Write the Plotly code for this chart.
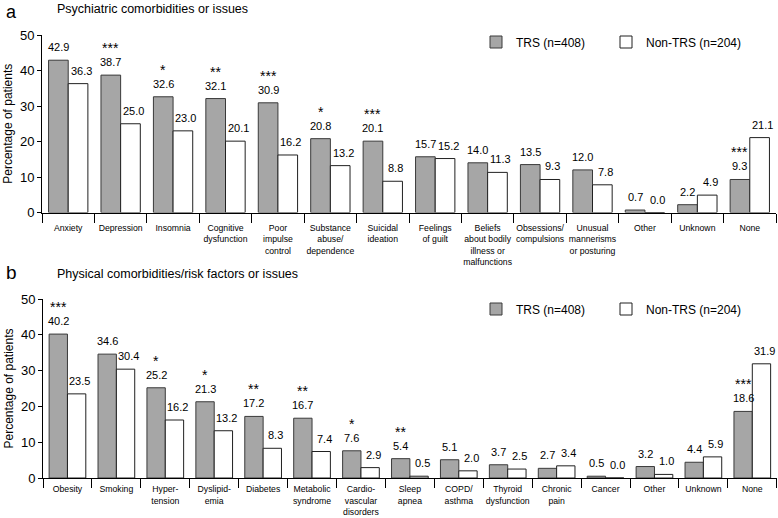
import plotly.graph_objects as go

# ---- Panel a data ----
cats_a = ["Anxiety", "Depression", "Insomnia", "Cognitive<br>dysfunction", "Poor<br>impulse<br>control",
          "Substance<br>abuse/<br>dependence", "Suicidal<br>ideation", "Feelings<br>of guilt",
          "Beliefs<br>about bodily<br>illness or<br>malfunctions", "Obsessions/<br>compulsions",
          "Unusual<br>mannerisms<br>or posturing", "Other", "Unknown", "None"]
trs_a = [42.9, 38.7, 32.6, 32.1, 30.9, 20.8, 20.1, 15.7, 14.0, 13.5, 12.0, 0.7, 2.2, 9.3]
non_a = [36.3, 25.0, 23.0, 20.1, 16.2, 13.2, 8.8, 15.2, 11.3, 9.3, 7.8, 0.0, 4.9, 21.1]
sig_a = ["", "***", "*", "**", "***", "*", "***", "", "", "", "", "", "", "***"]

# ---- Panel b data ----
cats_b = ["Obesity", "Smoking", "Hyper-<br>tension", "Dyslipid-<br>emia", "Diabetes", "Metabolic<br>syndrome",
          "Cardio-<br>vascular<br>disorders", "Sleep<br>apnea", "COPD/<br>asthma", "Thyroid<br>dysfunction",
          "Chronic<br>pain", "Cancer", "Other", "Unknown", "None"]
trs_b = [40.2, 34.6, 25.2, 21.3, 17.2, 16.7, 7.6, 5.4, 5.1, 3.7, 2.7, 0.5, 3.2, 4.4, 18.6]
non_b = [23.5, 30.4, 16.2, 13.2, 8.3, 7.4, 2.9, 0.5, 2.0, 2.5, 3.4, 0.0, 1.0, 5.9, 31.9]
sig_b = ["***", "", "*", "*", "**", "**", "*", "**", "", "", "", "", "", "", "***"]

y_ticks = [0, 10, 20, 30, 40, 50]

GRAY = "#a6a6a6"
FONT = "Liberation Sans, Arial, sans-serif"

fig = go.Figure()
annotations = []
panels = [
    (cats_a, trs_a, non_a, sig_a, "x", "y", "legend2", "legend3", 9.8),
    (cats_b, trs_b, non_b, sig_b, "x2", "y2", "legend4", "legend5", 9.2),
]
for cats, trs, non, sig, xa, ya, lg1, lg2, off in panels:
    fig.add_trace(go.Bar(x=cats, y=trs, name="TRS (n=408)", xaxis=xa, yaxis=ya, legend=lg1,
                         showlegend=True,
                         marker=dict(color=GRAY, line=dict(color="#3a3a3a", width=1))))
    fig.add_trace(go.Bar(x=cats, y=non, name="Non-TRS (n=204)", xaxis=xa, yaxis=ya, legend=lg2,
                         showlegend=True,
                         marker=dict(color="white", line=dict(color="#202020", width=1))))
    for c, t, n, s in zip(cats, trs, non, sig):
        annotations.append(dict(x=c, y=t, xref=xa, yref=ya, text=f"{t:.1f}", showarrow=False,
                                xshift=-off, yshift=13, yanchor="middle", font=dict(size=11)))
        annotations.append(dict(x=c, y=n, xref=xa, yref=ya, text=f"{n:.1f}", showarrow=False,
                                xshift=off + 3, yshift=13, yanchor="middle", font=dict(size=11)))
        if s:
            annotations.append(dict(x=c, y=t, xref=xa, yref=ya, text=s, showarrow=False,
                                    xshift=-off, yshift=27, yanchor="middle", font=dict(size=14)))

xcommon = dict(type="category", showline=True, linecolor="black", linewidth=1, ticks="outside",
               tickson="boundaries", ticklen=9, tickcolor="black", tickangle=0, automargin=False,
               tickfont=dict(size=8.7, color="black"), showgrid=False, zeroline=False)
ycommon = dict(range=[0, 50], tickvals=y_ticks, showline=True, linecolor="black", linewidth=1,
               ticks="outside", ticklen=4, tickcolor="black", tickfont=dict(size=13, color="black"),
               showgrid=False, zeroline=False, automargin=False,
               title=dict(text="Percentage of patients", font=dict(size=12, color="black"), standoff=4))

annotations += [
    dict(text="a", x=4 / 778, y=1, xref="paper", yref="paper", xanchor="left",
         yanchor="top", showarrow=False, font=dict(size=18)),
    dict(text="Psychiatric comorbidities or issues", x=55 / 778, y=1 - 9 / 518, xref="paper",
         yref="paper", xanchor="left", yanchor="middle", showarrow=False, font=dict(size=12.5)),
    dict(text="b", x=4 / 778, y=1 - 272 / 518, xref="paper", yref="paper", xanchor="left",
         yanchor="middle", showarrow=False, font=dict(size=19)),
    dict(text="Physical comorbidities/risk factors or issues", x=55 / 778, y=1 - 274 / 518,
         xref="paper", yref="paper", xanchor="left", yanchor="middle", showarrow=False,
         font=dict(size=12.5)),
]

leg = dict(orientation="h", xanchor="left", yanchor="middle", font=dict(size=12),
           bgcolor="rgba(0,0,0,0)", visible=True)

fig.update_layout(
    width=778, height=518, margin=dict(l=0, r=0, t=0, b=0),
    paper_bgcolor="white", plot_bgcolor="white",
    font=dict(family=FONT, color="black"),
    showlegend=True,
    barmode="group", bargap=0.25, bargroupgap=0,
    xaxis=dict(domain=[42 / 778, 776 / 778], anchor="y", ticklabelstandoff=7, **xcommon),
    yaxis=dict(domain=[1 - 212.5 / 518, 1 - 35 / 518], anchor="x", **ycommon),
    xaxis2=dict(domain=[43 / 778, 777 / 778], anchor="y2", ticklabelstandoff=3, **xcommon),
    yaxis2=dict(domain=[1 - 478 / 518, 1 - 299 / 518], anchor="x2", **ycommon),
    legend2=dict(x=476 / 778, y=1 - 42 / 518, **leg),
    legend3=dict(x=606 / 778, y=1 - 42 / 518, **leg),
    legend4=dict(x=476 / 778, y=1 - 309 / 518, **leg),
    legend5=dict(x=606 / 778, y=1 - 309 / 518, **leg),
    annotations=annotations,
)

fig.write_html("out.html", config={"displayModeBar": False},
               post_script="document.body.style.margin='0';")
